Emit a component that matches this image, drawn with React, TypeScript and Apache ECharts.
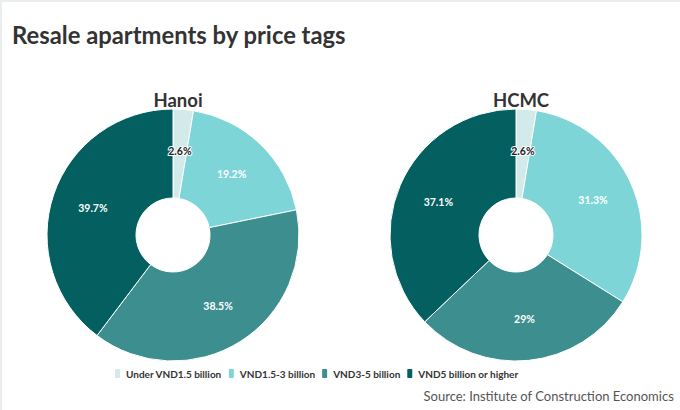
import { useEffect, useRef } from 'react';
import * as echarts from 'echarts';

// ─── Data ─────────────────────────────────────────────────────────────────────

const categories = ['Under VND1.5 billion', 'VND1.5-3 billion', 'VND3-5 billion', 'VND5 billion or higher'];
const hanoiValues = [2.6, 19.2, 38.5, 39.7];
const hcmcValues = [2.6, 31.3, 29, 37.1];
const cityNames = ['Hanoi', 'HCMC'];
const colors = ['#d3eaeb', '#7dd5d7', '#3c8e8f', '#035f60'];

const FONT = 'Lato, "Noto Sans", sans-serif';

function buildPie(name: string, values: number[], cx: number) {
  return {
    name,
    type: 'pie',
    center: [cx, 235],
    radius: [37, 126],
    startAngle: 90,
    clockwise: true,
    avoidLabelOverlap: false,
    itemStyle: { borderColor: '#ffffff', borderWidth: 1 },
    label: {
      show: true,
      position: 'inside',
      formatter: '{c}%',
      color: '#ffffff',
      fontFamily: FONT,
      fontWeight: 'bold',
      fontSize: 10.5,
    },
    labelLine: { show: false },
    emphasis: { disabled: true },
    data: values.map((v, i) => ({
      name: categories[i],
      value: v,
      itemStyle: { color: colors[i] },
      label:
        i === 0
          ? { color: '#222222', textBorderColor: '#ffffff', textBorderWidth: 2 }
          : undefined,
    })),
  };
}

export default function App() {
  const ref = useRef<HTMLDivElement>(null);

  useEffect(() => {
    if (!ref.current) return;
    const chart = echarts.init(ref.current, null, { renderer: 'svg' });
    chart.setOption({
      animation: false,
      backgroundColor: '#ffffff',
      title: [
        {
          text: 'Resale apartments by price tags',
          left: 7,
          top: 18,
          textStyle: { fontFamily: FONT, fontWeight: 'bold', fontSize: 23.8, color: '#333333' },
        },
        {
          text: cityNames[0],
          left: 173,
          top: 85,
          textAlign: 'center',
          textStyle: { fontFamily: FONT, fontWeight: 'bold', fontSize: 18.5, color: '#333333' },
        },
        {
          text: cityNames[1],
          left: 516,
          top: 85,
          textAlign: 'center',
          textStyle: { fontFamily: FONT, fontWeight: 'bold', fontSize: 18.5, color: '#333333' },
        },
        {
          text: 'Source: Institute of Construction Economics',
          right: 1,
          top: 384,
          textStyle: { fontFamily: FONT, fontWeight: 'normal', fontSize: 13, color: '#555555' },
        },
      ],
      legend: {
        data: categories,
        left: 108,
        top: 362,
        itemWidth: 7,
        itemHeight: 11,
        itemGap: 5,
        icon: 'roundRect',
        selectedMode: false,
        textStyle: { fontFamily: FONT, fontWeight: 'bold', fontSize: 10, color: '#333333' },
      },
      series: [buildPie(cityNames[0], hanoiValues, 173), buildPie(cityNames[1], hcmcValues, 516)],
    });
    return () => chart.dispose();
  }, []);

  return (
    <div style={{ position: 'absolute', left: 0, top: 0, width: 680, height: 410, background: '#ffffff' }}>
      <div ref={ref} style={{ position: 'absolute', left: 0, top: 0, width: 680, height: 410 }} />
      <div
        style={{
          position: 'absolute',
          left: 0,
          top: 0,
          width: 680,
          height: 410,
          boxSizing: 'border-box',
          borderTop: '2px solid #e9eded',
          borderLeft: '2px solid #e9eded',
          pointerEvents: 'none',
        }}
      />
    </div>
  );
}
